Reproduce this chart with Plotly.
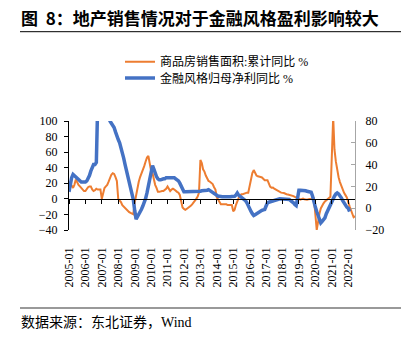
import plotly.graph_objects as go
import pandas as pd

# ---------------- data ----------------
months = pd.date_range("2005-01-01", periods=210, freq="MS").strftime("%Y-%m-%d").tolist()

# 商品房销售面积:累计同比 % (left axis), by year Jan..Dec
sales_2005 = [22, 20, 17, 14, 18, 25, 21, 18, 16, 14, 12, 10]
sales_2006 = [10, 13, 15, 16, 16, 12, 10, 11, 13, 12, 12, 12]
sales_2007 = [0, 10, 14, 16, 18, 22, 27, 31, 33, 32, 28, 23]
sales_2008 = [0, -2, -4, -8, -10, -12, -14, -15, -17, -18, -19, -19.7]
sales_2009 = [-5, 5, 15, 22, 28, 32, 38, 42, 48, 53, 55, 44]
sales_2010 = [36, 33, 25, 18, 14, 9, 9, 10, 10, 10, 11, 13]
sales_2011 = [16, 13, 10, 12, 13, 12, 10, 9, 8, 5, -3, -11]
sales_2012 = [-13, -14, -13, -12, -10, -9, -7, -5, -3, 0, 3, 8]
sales_2013 = [50, 46, 38, 35, 30, 25, 23, 22, 21, 19, 15, 12]
sales_2014 = [2, -1, -4, -7, -7, -7, -7, -7, -8, -8, -8, -8]
sales_2015 = [-16, -14, -8, -3, 1, 4, 6, 6, 7, 8, 8, 8]
sales_2016 = [None, 28.2, 33.1, 37.0, 33.2, 30.0, 29.0, 28.0, 28.0, 27.5, 26.0, 24.0]
sales_2017 = [None, 24.0, 19.5, 15.7, 14.3, 14.5, 13.0, 12.0, 10.3, 9.0, 8.5, 8.0]
sales_2018 = [None, 7.5, 6.5, 6.0, 5.5, 5.0, 5.0, 4.5, 3.5, 2.5, 2.0, 1.3]
sales_2019 = [None, -1.0, 0.0, 0.3, -0.5, -1.0, -1.0, -0.6, -0.1, 0.1, 0.2, 0.5]
sales_2020 = [None, -39.9, -26.3, -19.3, -12.3, -8.4, -5.8, -3.3, -1.8, 0.0, 1.3, 2.6]
sales_2021 = [None, 104.9, 63.8, 48.1, 36.3, 27.7, 21.5, 15.9, 11.3, 7.8, 4.8, 1.9]
sales_2022 = [None, -9.6, -13.8, -20.9, -23.6, -22.2]

# 金融风格归母净利同比 % (right axis), by year Jan..Dec
fin_2005 = [15, 24, 28, 31, 30, 28, 27, 26, 25, 24, 24, 24]
fin_2006 = [24, 25, 27, 30, 34, 37, 40, 40, 42, 95, 130, 150]
fin_2007 = [160, 170, 160, 140, 115, 88, 80, 78, 76, 74, 70, 65]
fin_2008 = [63, 60, 56, 52, 46, 40, 35, 30, 25, 20, 14, 8]
fin_2009 = [-2, -10, -8, -6, -3, -1, 2, 5, 9, 14, 20, 28]
fin_2010 = [34, 39, 36, 32, 29, 27, 26, 26, 27, 27, 27, 28]
fin_2011 = [28, 28, 28, 28, 28, 28, 27, 26, 25, 23, 20, 17]
fin_2012 = [15, 15, 15, 15, 15, 15, 15, 15, 15, 15, 15, 15.5]
fin_2013 = [15.6, 16, 16, 16, 16, 16.5, 17, 16, 15.5, 15, 14, 12.5]
fin_2014 = [11.6, 11, 11, 10.5, 10.5, 10.5, 10.4, 10.4, 10.4, 10.4, 10.5, 10.8]
fin_2015 = [11, 11, 12, 14, 12, 11, 10, 9.5, 8.5, 7, 5, 2]
fin_2016 = [-1, -3, -5, -6.7, -6, -5, -4.2, -3.5, -2.5, -2, -1.5, -1.2]
fin_2017 = [2, 5, 5.5, 6, 6.2, 6.4, 6.8, 7.2, 7.8, 8.2, 8.6, 8.6]
fin_2018 = [8.6, 8.6, 8.6, 8.6, 8.6, 8, 7, 6.4, 5, 3.5, 2.5, 9]
fin_2019 = [16.5, 16.5, 16.5, 16.5, 16.5, 16, 15.5, 15, 14.8, 14.7, 11, 5]
fin_2020 = [1, -3, -7, -11, -13.4, -12, -10, -8.8, -5, -2, 1, 4]
fin_2021 = [7, 9, 11, 13, 14, 13, 11.5, 9.5, 7, 5, 2.5, 1]
fin_2022 = [0, -3, None, None, None, None]

sales = (sales_2005 + sales_2006 + sales_2007 + sales_2008 + sales_2009 + sales_2010 +
         sales_2011 + sales_2012 + sales_2013 + sales_2014 + sales_2015 + sales_2016 +
         sales_2017 + sales_2018 + sales_2019 + sales_2020 + sales_2021 + sales_2022)
fin = (fin_2005 + fin_2006 + fin_2007 + fin_2008 + fin_2009 + fin_2010 +
       fin_2011 + fin_2012 + fin_2013 + fin_2014 + fin_2015 + fin_2016 +
       fin_2017 + fin_2018 + fin_2019 + fin_2020 + fin_2021 + fin_2022)

name_sales = "商品房销售面积:累计同比 %"
name_fin = "金融风格归母净利同比 %"
title_text = "图&nbsp;&nbsp;8：地产销售情况对于金融风格盈利影响较大"
source_text = "数据来源：东北证券，Wind"

left_ticks = [-40, -20, 0, 20, 40, 60, 80, 100]
right_ticks = [-20, 0, 20, 40, 60, 80]

# ---------------- layout geometry ----------------
W, H = 411, 340
ML, MR, MT, MB = 69, 56, 121, 110
PW, PH = W - ML - MR, H - MT - MB

def px_x(x):
    return (x - ML) / PW

def px_y(y):
    return (H - MB - y) / PH

serif = "Times New Roman, Liberation Serif, serif"
serif_cjk = "Times New Roman, Liberation Serif, Noto Sans CJK SC"

fig = go.Figure()
fig.add_trace(go.Scatter(
    x=months, y=sales, name=name_sales, mode="lines", connectgaps=True,
    line=dict(color="#ED7D31", width=2), xaxis="x", yaxis="y", legend="legend"))
fig.add_trace(go.Scatter(
    x=months, y=fin, name=name_fin, mode="lines", connectgaps=True,
    line=dict(color="#4472C4", width=3.5), xaxis="x2", yaxis="y2", legend="legend2"))

xr = ["2005-01-01", "2022-06-01"]
fig.update_layout(
    width=W, height=H,
    margin=dict(l=ML, r=MR, t=MT, b=MB),
    paper_bgcolor="white", plot_bgcolor="white",
    font=dict(family=serif_cjk, size=12, color="black"),
    xaxis=dict(type="date", range=xr, tick0="2005-01-01", dtick="M12",
               tickformat="%Y-%m", tickangle=-90, ticks="", showline=False,
               showgrid=False, zeroline=False, ticklabelstandoff=14,
               tickfont=dict(family=serif, size=12, color="black")),
    xaxis2=dict(type="date", range=xr, tick0="2005-01-01", dtick="M12",
                overlaying="x", anchor="free", position=40 / 140,
                showticklabels=False, ticks="outside", ticklen=4, tickcolor="black",
                showline=True, linecolor="black", linewidth=1,
                showgrid=False, zeroline=False),
    yaxis=dict(range=[-40, 100], tickvals=left_ticks, ticks="outside", ticklen=4,
               tickcolor="black", showline=True, linecolor="black", linewidth=1,
               showgrid=False, zeroline=False, ticklabelstandoff=4,
               tickfont=dict(family=serif, size=12, color="black")),
    yaxis2=dict(range=[-20, 80], tickvals=right_ticks, overlaying="y", side="right",
                anchor="x", ticks="inside", ticklen=4, tickcolor="#A6A6A6",
                showline=True, linecolor="#A6A6A6", linewidth=1,
                showgrid=False, zeroline=False, ticklabelstandoff=7,
                tickfont=dict(family=serif, size=12, color="black")),
    legend=dict(x=px_x(120), y=px_y(61.7), xanchor="left", yanchor="middle",
                bgcolor="rgba(0,0,0,0)", itemwidth=30,
                font=dict(family=serif_cjk, size=12, color="black")),
    legend2=dict(x=px_x(120), y=px_y(78), xanchor="left", yanchor="middle",
                 bgcolor="rgba(0,0,0,0)", itemwidth=30,
                 font=dict(family=serif_cjk, size=12, color="black")),
    showlegend=True,
)

fig.add_annotation(text="<b>" + title_text + "</b>", xref="paper", yref="paper",
                   x=px_x(19), y=px_y(18), xanchor="left", yanchor="middle",
                   showarrow=False,
                   font=dict(family="Noto Sans CJK SC", size=17, color="black"))
fig.add_annotation(text=source_text, xref="paper", yref="paper",
                   x=px_x(19), y=px_y(322), xanchor="left", yanchor="middle",
                   showarrow=False,
                   font=dict(family=serif_cjk, size=14, color="black"))
fig.add_shape(type="line", xref="paper", yref="paper",
              x0=px_x(20), x1=px_x(401), y0=px_y(31.7), y1=px_y(31.7),
              line=dict(color="black", width=1))
fig.add_shape(type="line", xref="paper", yref="paper",
              x0=px_x(20), x1=px_x(401), y0=px_y(308), y1=px_y(308),
              line=dict(color="#999999", width=2))

fig.write_html("out.html")
